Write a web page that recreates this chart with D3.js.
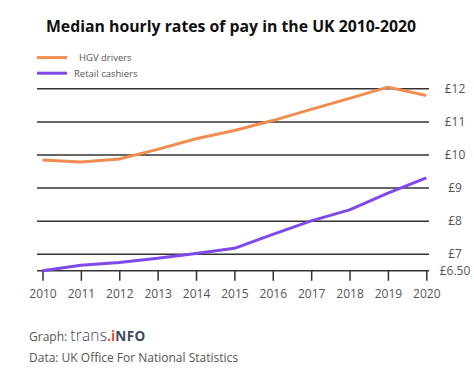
<!DOCTYPE html>
<html>
<head>
<meta charset="utf-8">
<script src="https://cdn.jsdelivr.net/npm/d3@7"></script>
<style>
  html, body { margin: 0; padding: 0; background: #fff; }
  svg { display: block; font-family: "Open Sans", sans-serif; }
</style>
</head>
<body>
<svg id="chart" width="474" height="385"></svg>
<script>
const years = [2010, 2011, 2012, 2013, 2014, 2015, 2016, 2017, 2018, 2019, 2020];
const hgvDrivers = [9.85, 9.79, 9.88, 10.17, 10.49, 10.74, 11.04, 11.38, 11.71, 12.05, 11.80];
const retailCashiers = [6.50, 6.67, 6.75, 6.88, 7.02, 7.18, 7.60, 8.01, 8.34, 8.85, 9.31];
const yTickValues = [6.5, 7, 8, 9, 10, 11, 12];
const yTickLabels = ["£6.50", "£7", "£8", "£9", "£10", "£11", "£12"];
const seriesNames = ["HGV drivers", "Retail cashiers"];
const seriesColors = ["#F08D4F", "#7F49EA"];

const svg = d3.select("#chart");
const x = d3.scaleLinear().domain([2010, 2020]).range([42.5, 426.3]);
const y = d3.scaleLinear().domain([6.5, 12]).range([270.8, 88.8]);
const gridX0 = 37, gridX1 = 429;

// Title
svg.append("text")
  .attr("x", 231).attr("y", 32)
  .attr("text-anchor", "middle")
  .attr("font-size", 15.8).attr("font-weight", 700)
  .attr("fill", "#111")
  .text("Median hourly rates of pay in the UK 2010-2020");

// Legend
const legendY = [57.6, 73.2];
const legendTextX = [79, 74];
seriesNames.forEach((n, i) => {
  svg.append("line")
    .attr("x1", 37).attr("x2", 67)
    .attr("y1", legendY[i]).attr("y2", legendY[i])
    .attr("stroke", seriesColors[i]).attr("stroke-width", 3);
  svg.append("text")
    .attr("x", legendTextX[i]).attr("y", legendY[i])
    .attr("dy", "0.35em")
    .attr("font-size", 9.5).attr("fill", "#555")
    .text(n);
});

// Gridlines
svg.append("g").selectAll("line")
  .data(yTickValues.filter(v => v !== 6.5))
  .join("line")
  .attr("x1", gridX0).attr("x2", gridX1)
  .attr("y1", d => y(d)).attr("y2", d => y(d))
  .attr("stroke", "#333").attr("stroke-width", 1.5);

// Y labels (right)
svg.append("g").selectAll("text")
  .data(yTickValues)
  .join("text")
  .attr("x", 455).attr("y", d => y(d))
  .attr("dy", "0.35em")
  .attr("text-anchor", "middle")
  .attr("font-size", 12).attr("fill", "#555")
  .text((d, i) => yTickLabels[i]);

// X axis
const xAxis = d3.axisBottom(x)
  .tickValues(years)
  .tickFormat(d3.format("d"))
  .tickSize(10)
  .tickPadding(9);
const gx = svg.append("g")
  .attr("transform", `translate(0,${y(6.5)})`)
  .call(xAxis);
gx.select(".domain").remove();
gx.selectAll(".tick line").attr("stroke", "#333").attr("stroke-width", 1.5);
gx.selectAll(".tick text")
  .attr("font-family", "Open Sans, sans-serif")
  .attr("font-size", 12).attr("fill", "#555");
svg.append("line")
  .attr("x1", gridX0).attr("x2", gridX1)
  .attr("y1", y(6.5)).attr("y2", y(6.5))
  .attr("stroke", "#333").attr("stroke-width", 1.5);

// Lines
const line = d3.line()
  .x((d, i) => x(years[i]))
  .y(d => y(d));
[hgvDrivers, retailCashiers].forEach((s, i) => {
  svg.append("path")
    .datum(s)
    .attr("d", line)
    .attr("fill", "none")
    .attr("stroke", seriesColors[i])
    .attr("stroke-width", 3)
    .attr("stroke-linejoin", "round");
});

// Footer
const g1 = svg.append("text")
  .attr("x", 29).attr("y", 341)
  .attr("font-size", 12).attr("fill", "#555");
g1.append("tspan").text("Graph: ");
g1.append("tspan").attr("font-size", 15.5).attr("fill", "#3c4a5e")
  .attr("font-weight", 300).attr("letter-spacing", 0.2).text("trans");
g1.append("tspan").attr("font-size", 14).attr("fill", "#e8503a").attr("font-weight", 700).text(".i");
g1.append("tspan").attr("font-size", 13.5).attr("fill", "#3c4a5e").attr("font-weight", 700).attr("letter-spacing", 0.4).text("NFO");

svg.append("text")
  .attr("x", 29).attr("y", 362)
  .attr("font-size", 12).attr("fill", "#555")
  .text("Data: UK Office For National Statistics");
</script>
</body>
</html>
